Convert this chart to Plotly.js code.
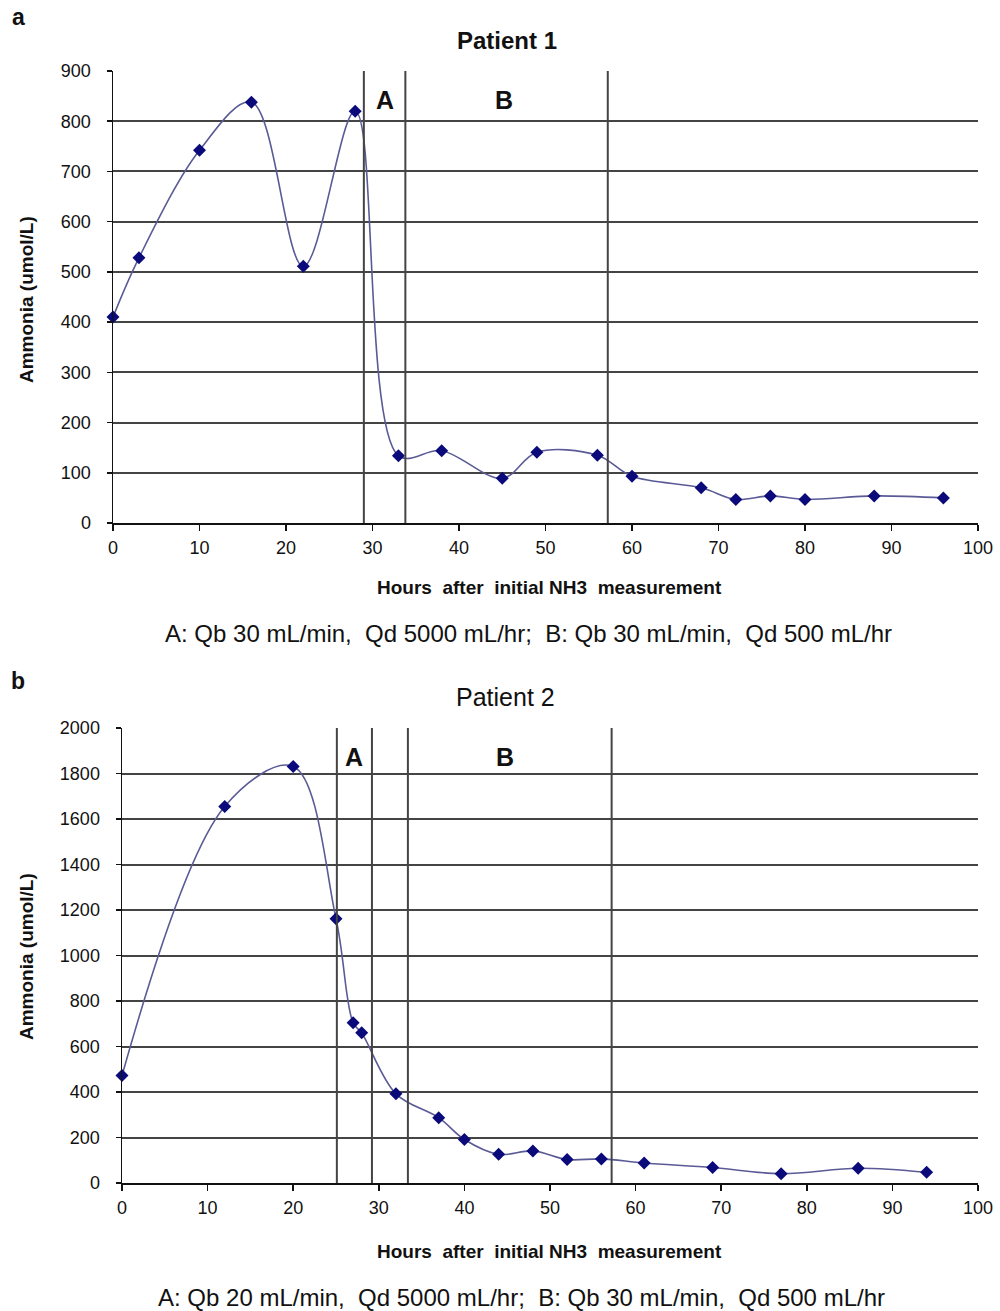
<!DOCTYPE html>
<html>
<head>
<meta charset="utf-8">
<script src="https://cdn.plot.ly/plotly-3.0.1.min.js"></script>
<style>html,body{margin:0;padding:0;background:#fff}#chart{width:1000px;height:1311px}</style>
</head>
<body>
<div id="chart"></div>
<script>
// Patient 1
const hours1 = [0, 3, 10, 16, 22, 28, 33, 38, 45, 49, 56, 60, 68, 72, 76, 80, 88, 96];
const ammonia1 = [410, 528, 742, 838, 511, 820, 134, 144, 89, 141, 135, 93, 70, 47, 54, 47, 54, 50];
const phaseBounds1 = [29, 33.8, 57.2];
const phaseLabels1 = ["A", "B"];
const phaseLabelX1 = [31.4, 45.2];
// Patient 2
const hours2 = [0, 12, 20, 25, 27, 28, 32, 37, 40, 44, 48, 52, 56, 61, 69, 77, 86, 94];
const ammonia2 = [472, 1655, 1831, 1162, 704, 660, 392, 287, 191, 126, 141, 103, 106, 88, 68, 41, 65, 47];
const phaseBounds2 = [25.1, 29.2, 33.4, 57.2];
const phaseLabels2 = ["A", "B"];
const phaseLabelX2 = [27.1, 44.7];
const xTicks = [0, 10, 20, 30, 40, 50, 60, 70, 80, 90, 100];
const yTicks1 = [0, 100, 200, 300, 400, 500, 600, 700, 800, 900];
const yTicks2 = [0, 200, 400, 600, 800, 1000, 1200, 1400, 1600, 1800, 2000];

const H = 1311;
const py = p => 1 - p / H;
const lineColor = '#5a5a96';
const markerColor = '#0a0a7a';
const gridColor = '#444';
const font = 'Liberation Sans, Arial, sans-serif';

function trace(x, y, xa, ya) {
  return {
    x: x, y: y, xaxis: xa, yaxis: ya, type: 'scatter', mode: 'lines+markers',
    line: {shape: 'spline', smoothing: 1, color: lineColor, width: 1.6},
    marker: {symbol: 'diamond', size: 10, color: markerColor},
    hoverinfo: 'x+y', showlegend: false, cliponaxis: false
  };
}

function xaxis(domain, anchor) {
  return {
    domain: domain, anchor: anchor, range: [0, 100], tickvals: xTicks, ticktext: xTicks.map(String),
    showgrid: false, zeroline: false, showline: true, linecolor: '#111', linewidth: 1.5,
    ticks: 'outside', ticklen: 6, tickwidth: 1.5, tickcolor: '#111', ticklabelstandoff: 2,
    tickfont: {family: font, size: 18, color: '#111'}
  };
}
function yaxis(domain, anchor, max, ticks) {
  return {
    domain: domain, anchor: anchor, range: [0, max], tickvals: ticks, ticktext: ticks.map(String),
    showgrid: true, gridcolor: gridColor, gridwidth: 2, zeroline: false,
    showline: true, linecolor: '#111', linewidth: 1.5,
    ticks: 'outside', ticklen: 5, tickwidth: 1.5, tickcolor: '#111', ticklabelstandoff: 12,
    tickfont: {family: font, size: 18, color: '#111'}
  };
}

const shapes = [];
phaseBounds1.forEach(b => shapes.push({type: 'line', xref: 'x', yref: 'y domain', x0: b, x1: b, y0: 0, y1: 1, line: {color: gridColor, width: 2}}));
phaseBounds2.forEach(b => shapes.push({type: 'line', xref: 'x2', yref: 'y2 domain', x0: b, x1: b, y0: 0, y1: 1, line: {color: gridColor, width: 2}}));

function ann(text, x, y, size, bold, extra) {
  return Object.assign({
    text: bold ? '<b>' + text + '</b>' : text, xref: 'paper', yref: 'paper', x: x / 1000, y: py(y),
    showarrow: false, xanchor: 'center', yanchor: 'middle',
    font: {family: font, size: size, color: '#111'}
  }, extra || {});
}
function phaseAnn(text, xref, x, y) {
  return {text: '<b>' + text + '</b>', xref: xref, yref: 'paper', x: x, y: py(y), showarrow: false,
    xanchor: 'center', yanchor: 'middle', font: {family: font, size: 25, color: '#111'}};
}

const annotations = [
  ann('a', 18, 17, 23, true),
  ann('Patient 1', 507, 40, 24, true),
  ann('Ammonia (umol/L)', 26, 300, 19, true, {textangle: -90}),
  ann('Hours  after  initial NH3  measurement', 549, 587, 19, true),
  ann('A: Qb 30 mL/min,  Qd 5000 mL/hr;  B: Qb 30 mL/min,  Qd 500 mL/hr', 528, 633, 24, false),
  phaseAnn(phaseLabels1[0], 'x', phaseLabelX1[0], 100),
  phaseAnn(phaseLabels1[1], 'x', phaseLabelX1[1], 100),
  ann('b', 18, 681, 23, true),
  ann('Patient 2', 505, 697, 25, false),
  ann('Ammonia (umol/L)', 26, 957, 19, true, {textangle: -90}),
  ann('Hours  after  initial NH3  measurement', 549, 1251, 19, true),
  ann('A: Qb 20 mL/min,  Qd 5000 mL/hr;  B: Qb 30 mL/min,  Qd 500 mL/hr', 521, 1297, 24, false),
  phaseAnn(phaseLabels2[0], 'x2', phaseLabelX2[0], 757),
  phaseAnn(phaseLabels2[1], 'x2', phaseLabelX2[1], 757)
];

const layout = {
  width: 1000, height: 1311, margin: {l: 0, r: 0, t: 0, b: 0},
  paper_bgcolor: '#fff', plot_bgcolor: '#fff', showlegend: false,
  xaxis: xaxis([0.113, 0.978], 'y'),
  yaxis: yaxis([py(523), py(71)], 'x', 900, yTicks1),
  xaxis2: xaxis([0.122, 0.978], 'y2'),
  yaxis2: yaxis([py(1183), py(728)], 'x2', 2000, yTicks2),
  shapes: shapes, annotations: annotations
};

Plotly.newPlot('chart', [trace(hours1, ammonia1, 'x', 'y'), trace(hours2, ammonia2, 'x2', 'y2')], layout, {staticPlot: true});
</script>
</body>
</html>
